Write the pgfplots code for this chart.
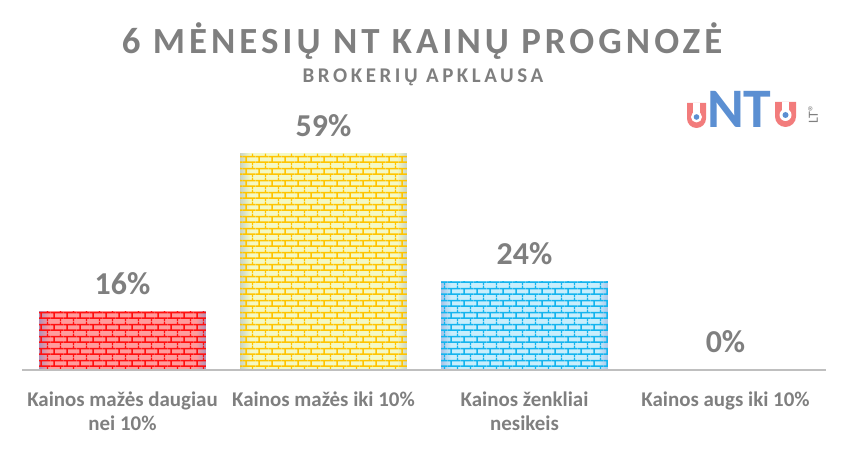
\documentclass[border=0pt]{standalone}
\usepackage{fontspec}
\setmainfont{Carlito}
\usepackage{pgfplots}
\pgfplotsset{compat=1.18}
\usetikzlibrary{patterns}

\definecolor{txtgray}{HTML}{7F7F7F}
\definecolor{axisgray}{HTML}{BFBFBF}
\definecolor{redFill}{HTML}{FF9C9C}
\definecolor{redMortar}{HTML}{FF1010}
\definecolor{redEdge}{HTML}{B090B8}
\definecolor{yelFill}{HTML}{F4F9C4}
\definecolor{yelMortar}{HTML}{FFC400}
\definecolor{yelEdge}{HTML}{C8D4C8}
\definecolor{bluFill}{HTML}{C8EEFC}
\definecolor{bluMortar}{HTML}{14B4EE}
\definecolor{bluEdge}{HTML}{A8C4E8}
\definecolor{logoPink}{HTML}{F27C7C}
\definecolor{logoBlue}{HTML}{5B8FD2}

\newfontfamily\titlefont[LetterSpace=11]{Carlito}
\newfontfamily\subfont[LetterSpace=17]{Carlito}

% brick wall, one tile = two rows of bricks
\pgfdeclarepatternformonly{brickwall}{\pgfpointorigin}{\pgfpoint{12.8bp}{11.6bp}}{\pgfpoint{12.8bp}{11.6bp}}{%
  \pgfsetlinewidth{1.5bp}
  \pgfpathmoveto{\pgfpoint{0bp}{2.9bp}}\pgfpathlineto{\pgfpoint{12.8bp}{2.9bp}}
  \pgfpathmoveto{\pgfpoint{0bp}{8.7bp}}\pgfpathlineto{\pgfpoint{12.8bp}{8.7bp}}
  \pgfpathmoveto{\pgfpoint{3.2bp}{2.9bp}}\pgfpathlineto{\pgfpoint{3.2bp}{8.7bp}}
  \pgfpathmoveto{\pgfpoint{9.6bp}{8.7bp}}\pgfpathlineto{\pgfpoint{9.6bp}{11.6bp}}
  \pgfpathmoveto{\pgfpoint{9.6bp}{0bp}}\pgfpathlineto{\pgfpoint{9.6bp}{2.9bp}}
  \pgfusepath{stroke}}

\pgfdeclarehorizontalshading{redbar}{100bp}{color(0bp)=(redEdge); color(25bp)=(redEdge); color(28bp)=(redFill); color(72bp)=(redFill); color(75bp)=(redEdge); color(100bp)=(redEdge)}
\pgfdeclarehorizontalshading{yelbar}{100bp}{color(0bp)=(yelEdge); color(25bp)=(yelEdge); color(28bp)=(yelFill); color(72bp)=(yelFill); color(75bp)=(yelEdge); color(100bp)=(yelEdge)}
\pgfdeclarehorizontalshading{blubar}{100bp}{color(0bp)=(bluEdge); color(25bp)=(bluEdge); color(28bp)=(bluFill); color(72bp)=(bluFill); color(75bp)=(bluEdge); color(100bp)=(bluEdge)}

\begin{document}
\begin{tikzpicture}[x=1bp,y=1bp]
\useasboundingbox (0,0) rectangle (846,450);

% titles
\node[anchor=base, text=txtgray, inner sep=0] at (422,396)
  {\titlefont\fontsize{37}{40}\selectfont\bfseries 6 MĖNESIŲ NT KAINŲ PROGNOZĖ};
\node[anchor=base, text=txtgray, inner sep=0] at (423,367)
  {\subfont\fontsize{21}{22}\selectfont\bfseries BROKERIŲ APKLAUSA};

\begin{axis}[
    at={(22bp,80bp)}, anchor=south west,
    scale only axis,
    width=804bp, height=257bp,
    xmin=-0.5, xmax=3.5,
    ymin=0, ymax=70,
    axis y line=none,
    axis x line*=bottom,
    x axis line style={draw=axisgray, line width=2.5bp, -},
    axis on top,
    clip=false,
    xtick={0,1,2,3},
    xticklabels={{Kainos mažės daugiau\\nei 10\%},{Kainos mažės iki 10\%},{Kainos ženkliai\\nesikeis},{Kainos augs iki 10\%}},
    major tick length=0pt,
    xticklabel style={font=\fontsize{21}{24}\selectfont\bfseries, text=txtgray, align=center, anchor=north, yshift=-18bp},
    ybar, bar width=0.83, bar shift=0pt,
]
% shaded body of each bar
\addplot[draw=none, shade, shading=redbar] coordinates {(0,16)};
\addplot[draw=none, shade, shading=yelbar] coordinates {(1,59)};
\addplot[draw=none, shade, shading=blubar] coordinates {(2,24)};
% brick mortar on top, plus value labels
\pgfplotsset{every axis plot/.append style={
    nodes near coords={\pgfmathprintnumber[assume math mode=true]{\pgfplotspointmeta}\%},
    every node near coord/.append style={font=\fontsize{32}{34}\selectfont\bfseries, text=txtgray, anchor=base, yshift=17bp}}}
\addplot[draw=none, pattern=brickwall, pattern color=redMortar] coordinates {(0,16)};
\addplot[draw=none, pattern=brickwall, pattern color=yelMortar] coordinates {(1,59)};
\addplot[draw=none, pattern=brickwall, pattern color=bluMortar] coordinates {(2,24)};
\addplot[draw=none, fill=none] coordinates {(3,0)};
\end{axis}

% logo
\begin{scope}[shift={(687,322)}]
  \fill[logoPink] (0,25) -- (0,9.5) arc(180:360:9.5) -- (19,25) -- cycle;
  \fill[white] (9.5,11) circle (5.5);
  \fill[white] (6.3,25) rectangle (12.7,12);
  \fill[logoBlue] (9.5,11) circle (2.8);
\end{scope}
\begin{scope}[shift={(775,323)}]
  \fill[logoPink] (0,25) -- (0,10.5) arc(180:360:10.5) -- (21,25) -- cycle;
  \fill[white] (10.5,12) circle (6);
  \fill[white] (7,25) rectangle (14,13);
  \fill[logoBlue] (10.5,12) circle (3);
\end{scope}
\node[rotate=90, anchor=center, inner sep=0, text=txtgray] at (813,336)
  {\fontsize{14}{14}\selectfont LT®};
\node[anchor=base west, inner sep=0, text=logoBlue] at (707,322)
  {\fontsize{56}{56}\selectfont\bfseries NT};
\end{tikzpicture}
\end{document}
